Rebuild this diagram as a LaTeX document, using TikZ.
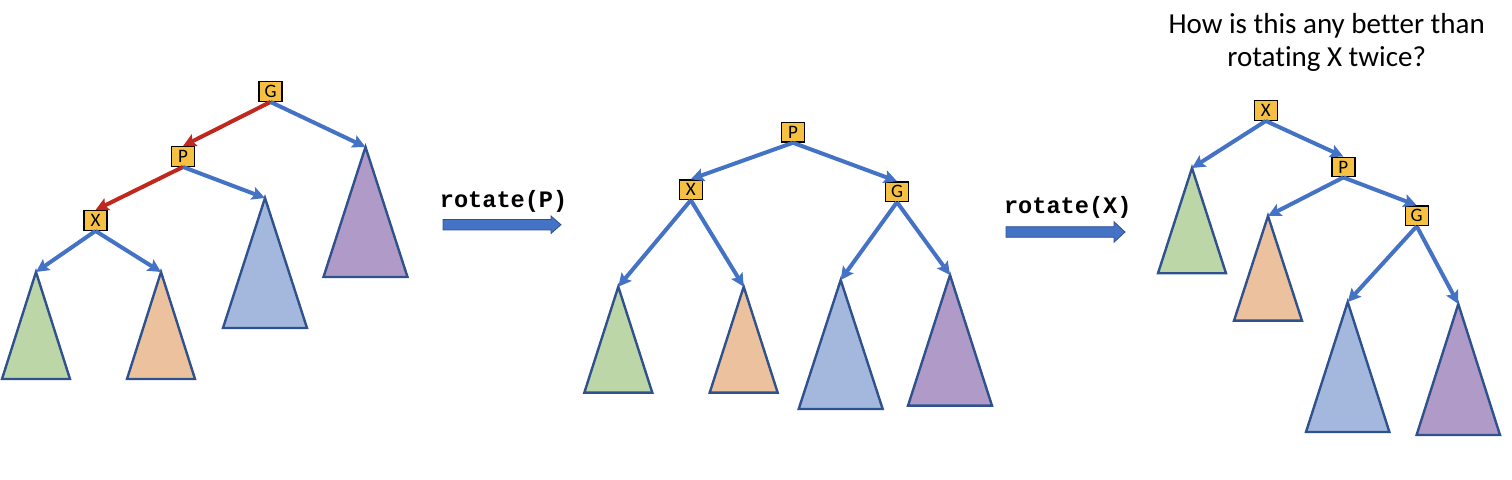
\documentclass[tikz,border=0pt]{standalone}
\usepackage{fontspec}
\setmainfont{Carlito}[Ligatures=NoCommon]
\setmonofont{Liberation Mono}
\usetikzlibrary{arrows.meta}
\usetikzlibrary{positioning}

\definecolor{keyfill}{HTML}{F6C143}
\definecolor{linkblue}{HTML}{4472C4}
\definecolor{pathred}{HTML}{C0281E}
\definecolor{treeedge}{HTML}{2F528F}
\definecolor{greenfill}{HTML}{BDD6A8}
\definecolor{orangefill}{HTML}{ECC19D}
\definecolor{bluefill}{HTML}{A4B8DE}
\definecolor{purplefill}{HTML}{B09AC8}

\begin{document}
\begin{tikzpicture}[
    x=0.5pt, y=-0.5pt,
    key/.style={rectangle,draw=black,fill=keyfill,line width=0.7pt,minimum width=11.5pt,minimum height=9.75pt,inner sep=0pt,font=\fontsize{9.5}{10}\selectfont},
    link/.style={draw=linkblue, line width=2pt, -{Stealth[length=6.5pt,width=6.5pt,inset=1.2pt]}},
    red_link/.style={link, draw=pathred},
    subtree/.style={draw=treeedge, line width=1.2pt, line join=miter},
    op/.style={font=\fontsize{11.8}{12}\selectfont\ttfamily\bfseries},
    question/.style={align=center,font=\fontsize{14.5}{16.7}\selectfont},
    fat_arrow/.style={draw=treeedge, line width=0.4pt, fill=linkblue}
]

\useasboundingbox (0,0) rectangle (1512,480);

% before
\node[key] (g_one) at (270.5,91.5) {G};
\node[key] (p_one) at (183,156.5) {P};
\node[key] (x_one) at (95.5,220.5) {X};

\filldraw[subtree, fill=greenfill]  (36,272) coordinate (green_one)   -- ++(-34,107) -- ++(68,0) -- cycle;
\filldraw[subtree, fill=orangefill] (161,272) coordinate (orange_one) -- ++(-34,107) -- ++(68,0) -- cycle;
\filldraw[subtree, fill=bluefill]   (265,198) coordinate (blue_one)   -- ++(-42,130) -- ++(84,0) -- cycle;
\filldraw[subtree, fill=purplefill] (365.5,147) coordinate (purple_one) -- ++(-42,130) -- ++(84,0) -- cycle;

\draw[red_link] (g_one.south) -- (p_one.north);
\draw[red_link] (p_one.south) -- (x_one.north);
\draw[link] (g_one.south) -- (purple_one);
\draw[link] (p_one.south) -- (blue_one);
\draw[link] (x_one.south) -- (green_one);
\draw[link] (x_one.south) -- (orange_one);

\node[op, anchor=base] (rotate_p) at (503.6,208) {rotate(P)};
\filldraw[fat_arrow] (443,219.5) -- ++(108,0) -- ++(0,-3.5) -- ++(10,8.75) 
                                 -- ++(-10,8.75) -- ++(0,-3.5) -- ++(-108,0) -- cycle;

% after rotate(P)
\node[key] (p_two) at (793,132.3) {P};
\node[key] (x_two) at (690.8,189.7) {X};
\node[key] (g_two) at (897,191.7) {G};

\filldraw[subtree, fill=greenfill]  (618.3,286.7) coordinate (green_two)  -- ++(-34,106) -- ++(68,0) -- cycle;
\filldraw[subtree, fill=orangefill] (743.7,286.7) coordinate (orange_two) -- ++(-34,106) -- ++(68,0) -- cycle;
\filldraw[subtree, fill=bluefill]   (840.7,280) coordinate (blue_two)     -- ++(-42,129) -- ++(84,0) -- cycle;
\filldraw[subtree, fill=purplefill] (950,275) coordinate (purple_two)     -- ++(-42,130.7) -- ++(84,0) -- cycle;

\draw[link] (p_two.south) -- (x_two.north);
\draw[link] (p_two.south) -- (g_two.north);
\draw[link] (x_two.south) -- (green_two);
\draw[link] (x_two.south) -- (orange_two);
\draw[link] (g_two.south) -- (blue_two);
\draw[link] (g_two.south) -- (purple_two);

\node[op, anchor=base] (rotate_x) at (1067.8,213.3) {rotate(X)};
\filldraw[fat_arrow] (1006,226.7) -- ++(108,0) -- ++(0,-5) -- ++(11,10.3) 
                                  -- ++(-11,10.3) -- ++(0,-5) -- ++(-108,0) -- cycle;

% after rotate(X)
\node[question, anchor=base] (doubt) at (1326.7,66.7) {How is this any better than\\rotating X twice?};

\node[key] (x_three) at (1265.8,110.5) {X};
\node[key] (p_three) at (1343.3,167) {P};
\node[key] (g_three) at (1416.7,215.8) {G};

\filldraw[subtree, fill=greenfill]  (1192,168) coordinate (green_three)    -- ++(-34,105.3) -- ++(68,0) -- cycle;
\filldraw[subtree, fill=orangefill] (1268,216) coordinate (orange_three)   -- ++(-34,104.7) -- ++(68,0) -- cycle;
\filldraw[subtree, fill=bluefill]   (1347.7,302) coordinate (blue_three)   -- ++(-41.7,130) -- ++(83.4,0) -- cycle;
\filldraw[subtree, fill=purplefill] (1458.3,304) coordinate (purple_three) -- ++(-41.7,131) -- ++(83.4,0) -- cycle;

\draw[link] (x_three.south) -- (green_three);
\draw[link] (x_three.south) -- (p_three.north);
\draw[link] (p_three.south) -- (orange_three);
\draw[link] (p_three.south) -- (g_three.north);
\draw[link] (g_three.south) -- (blue_three);
\draw[link] (g_three.south) -- (purple_three);

\end{tikzpicture}
\end{document}
